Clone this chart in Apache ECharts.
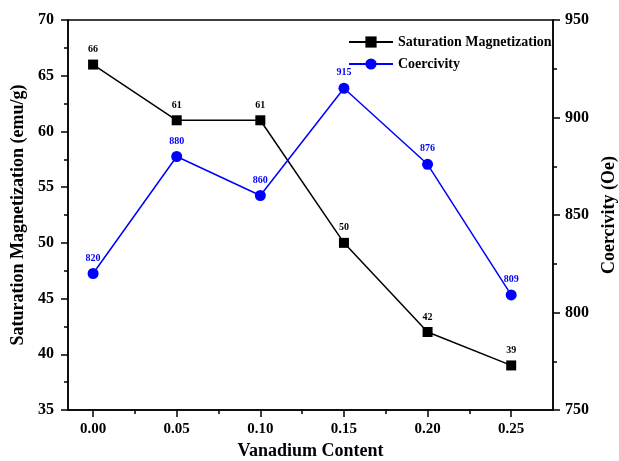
<!DOCTYPE html>
<html>
<head>
<meta charset="utf-8">
<script src="https://cdn.jsdelivr.net/npm/echarts@6/dist/echarts.min.js"></script>
<style>
html, body { margin: 0; padding: 0; background: #fff; }
#main { width: 619px; height: 461px; }
</style>
</head>
<body>
<div id="main"></div>
<script>
var vanadium = [0.00, 0.05, 0.10, 0.15, 0.20, 0.25];
var saturation = [66, 61, 61, 50, 42, 39];
var coercivity = [820, 880, 860, 915, 876, 809];
var minorX = [0.025, 0.075, 0.125, 0.175, 0.225];

var FONT = 'Liberation Serif';
var BLUE = '#0000ff';

function pairs(xs, ys) {
	var out = [];
	for (var i = 0; i < xs.length; i++) out.push([xs[i], ys[i]]);
	return out;
}

var chart = echarts.init(document.getElementById('main'));

var option = {
	animation: false,
	textStyle: { fontFamily: FONT },
	grid: {
		left: 68, right: 66, top: 20, bottom: 51,
		outerBoundsMode: 'none', containLabel: false,
		show: true, borderColor: '#000', borderWidth: 1.5, backgroundColor: 'transparent'
	},
	legend: {
		orient: 'vertical',
		left: 343, top: 30,
		itemWidth: 44, itemHeight: 14, itemGap: 8,
		textStyle: { fontFamily: FONT, fontWeight: 'bold', fontSize: 14, color: '#000' },
		data: ['Saturation Magnetization', 'Coercivity']
	},
	xAxis: [{
		type: 'value',
		min: -0.015, max: 0.275,
		name: 'Vanadium Content',
		nameLocation: 'middle',
		nameGap: 24,
		nameTextStyle: { fontFamily: FONT, fontWeight: 'bold', fontSize: 18, color: '#000' },
		axisLine: { onZero: false, lineStyle: { color: '#000', width: 1.5 } },
		axisTick: { show: true, length: 7, lineStyle: { color: '#000', width: 1.5 }, customValues: vanadium },
		axisLabel: {
			customValues: vanadium, margin: 12,
			fontFamily: FONT, fontWeight: 'bold', fontSize: 15, color: '#000',
			formatter: function (v) { return v.toFixed(2); }
		},
		splitLine: { show: false }
	}, {
		type: 'value',
		position: 'bottom',
		min: -0.015, max: 0.275,
		axisLine: { show: false, onZero: false },
		axisTick: { show: true, length: 4, lineStyle: { color: '#000', width: 1.5 }, customValues: minorX },
		axisLabel: { show: false },
		splitLine: { show: false }
	}],
	yAxis: [{
		type: 'value',
		min: 35, max: 70, interval: 5,
		name: 'Saturation Magnetization (emu/g)',
		nameLocation: 'middle',
		nameGap: 41,
		nameTextStyle: { fontFamily: FONT, fontWeight: 'bold', fontSize: 18, color: '#000' },
		axisLine: { show: true, onZero: false, lineStyle: { color: '#000', width: 1.5 } },
		axisTick: { show: true, length: 7, lineStyle: { color: '#000', width: 1.5 } },
		minorTick: { show: true, splitNumber: 2, length: 4, lineStyle: { color: '#000', width: 1.5 } },
		axisLabel: { margin: 14, fontFamily: FONT, fontWeight: 'bold', fontSize: 16, color: '#000' },
		splitLine: { show: false }
	}, {
		type: 'value',
		min: 750, max: 950, interval: 50,
		position: 'right',
		name: 'Coercivity (Oe)',
		nameLocation: 'middle',
		nameGap: 44,
		nameRotate: 90,
		nameTextStyle: { fontFamily: FONT, fontWeight: 'bold', fontSize: 18, color: '#000' },
		axisLine: { show: true, onZero: false, lineStyle: { color: '#000', width: 1.5 } },
		axisTick: { show: true, length: 7, lineStyle: { color: '#000', width: 1.5 } },
		minorTick: { show: true, splitNumber: 2, length: 4, lineStyle: { color: '#000', width: 1.5 } },
		axisLabel: { margin: 12, fontFamily: FONT, fontWeight: 'bold', fontSize: 16, color: '#000' },
		splitLine: { show: false }
	}],
	series: [{
		name: 'Saturation Magnetization',
		type: 'line',
		xAxisIndex: 0, yAxisIndex: 0,
		data: pairs(vanadium, saturation),
		symbol: 'rect', symbolSize: 10,
		itemStyle: { color: '#000' },
		lineStyle: { color: '#000', width: 1.5 },
		label: {
			show: true, position: 'top', distance: 5,
			fontFamily: FONT, fontWeight: 'bold', fontSize: 10, color: '#000'
		}
	}, {
		name: 'Coercivity',
		type: 'line',
		xAxisIndex: 0, yAxisIndex: 1,
		data: pairs(vanadium, coercivity),
		symbol: 'circle', symbolSize: 11,
		itemStyle: { color: BLUE },
		lineStyle: { color: BLUE, width: 1.5 },
		label: {
			show: true, position: 'top', distance: 5,
			fontFamily: FONT, fontWeight: 'bold', fontSize: 10, color: BLUE
		}
	}]
};

chart.setOption(option);
</script>
</body>
</html>
